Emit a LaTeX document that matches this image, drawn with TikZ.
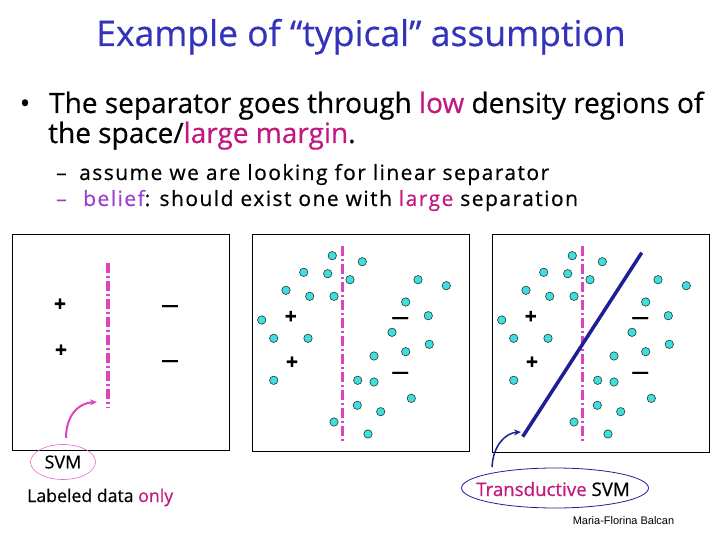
\documentclass[tikz,border=0pt]{standalone}
\usepackage{fontspec}
\setmainfont{Open Sans}[FakeBold=0.5]
\newfontfamily\subfont[LetterSpace=7,FakeBold=0.5]{Open Sans}
\newfontfamily\creditfont{Liberation Sans}
\usetikzlibrary{arrows.meta,shapes.geometric}
\definecolor{titleblue}{HTML}{3333BB}
\definecolor{hlmag}{HTML}{C2187F}
\definecolor{hlpurple}{HTML}{9A3FD0}
\definecolor{seppink}{HTML}{DD44BB}
\definecolor{dotcyan}{HTML}{3CE0E0}
\definecolor{navy}{HTML}{1E1E96}
\tikzset{
  frame/.style={draw=black, line width=1pt},
  sepline/.style={draw=seppink, line width=3.5pt, dash pattern=on 10pt off 3pt on 2pt off 3pt},
  udot/.style={fill=dotcyan, draw=black!80, line width=0.6pt},
  plusmark/.style={font=\fontsize{21}{21}\selectfont\bfseries, inner sep=0pt},
  minusmark/.style={font=\fontsize{17}{17}\selectfont\bfseries, inner sep=0pt},
  bodytext/.style={anchor=base west, inner sep=0pt},
  labelring/.style={ellipse, inner sep=0pt},
}
\begin{document}
\begin{tikzpicture}[x=1pt,y=-1pt]
\useasboundingbox (0,0) rectangle (720,540);
% title
\node[anchor=base, inner sep=0pt, text=titleblue, font=\fontsize{35.5}{35.5}\selectfont] (title) at (361,46) {Example of “typical” assumption};
% bullets
\node[anchor=base, inner sep=0pt, font=\fontsize{28}{28}\selectfont] (bul) at (25,113) {•};
\node[bodytext, font=\fontsize{28}{28}\selectfont] (l1) at (49,113) {The separator goes through \textcolor{hlmag}{low} density regions of};
\node[bodytext, font=\fontsize{28}{28}\selectfont] (l2) at (48,143) {the space/\textcolor{hlmag}{large margin}.};
\node[anchor=base west, inner sep=0pt, font=\subfont\fontsize{21}{21}\selectfont] (d1) at (56,180) {–};
\node[bodytext, font=\subfont\fontsize{21}{21}\selectfont] (s1) at (79,180) {assume we are looking for linear separator};
\node[anchor=base west, inner sep=0pt, text=hlpurple, font=\subfont\fontsize{21}{21}\selectfont] (d2) at (56,206) {–};
\node[bodytext, font=\subfont\fontsize{21}{21}\selectfont] (s2) at (83,206) {\textcolor{hlpurple}{belief}: should exist one with \textcolor{hlmag}{large} separation};
% frames
\draw[frame] (12,234) rectangle (229,450);
\draw[frame] (252,234) rectangle (469,451);
\draw[frame] (492,234) rectangle (709,452);
% box 1
\draw[sepline] (108,263) -- (108,408);
\node[plusmark] (p1a) at (60,305) {+};
\node[plusmark] (p1b) at (61,351) {+};
\node[minusmark] (m1a) at (170,308) {—};
\node[minusmark] (m1b) at (170,363) {—};
% boxes 2 and 3: unlabeled points
\foreach \s in {0,240}{
  \foreach \px/\py in {332.3/255.7, 362.3/261.7, 303.7/272.3, 327.7/273.7, 350/279.7, 418/279.7,
     446.3/285.7, 286/290.3, 309.7/296.3, 334/296.3, 405.7/302, 261.7/320, 428.3/315.7,
     273.7/338.3, 308/338.3, 392/332.3, 405.7/351.7, 429.3/344.3, 374/356, 273.7/380.3,
     357.7/380.3, 374/382, 411.3/398.3, 357.3/405.3, 380.7/411.7, 334/422, 368/434}{
    \filldraw[udot] (\px+\s,\py) circle (4.2);
  }
}
\draw[sepline] (342.3,246) -- (342.3,441);
\node[plusmark] (p2a) at (290.7,317.3) {+};
\node[plusmark] (p2b) at (292,363) {+};
\node[minusmark] (m2a) at (400.3,320) {—};
\node[minusmark] (m2b) at (400.3,374.7) {—};
\draw[sepline] (582.3,246) -- (582.3,441);
\node[plusmark] (p3a) at (530.7,317.3) {+};
\node[plusmark] (p3b) at (532,363) {+};
\node[minusmark] (m3a) at (640.3,320) {—};
\node[minusmark] (m3b) at (640.3,374.7) {—};
\coordinate (tsvmlo) at (522.7,436.7);
\coordinate (tsvmhi) at (641.7,252.7);
\draw[navy, line width=3.5pt] (tsvmlo) -- (tsvmhi);
% labels
\node[labelring, draw=seppink!80, line width=0.6pt, minimum width=65pt, minimum height=35pt] (svmring) at (63,462) {};
\node[inner sep=0pt, font=\fontsize{18}{18}\selectfont] (svm) at (svmring.center) {SVM};
\node[bodytext, font=\fontsize{17.7}{17.7}\selectfont] (lab) at (27,502) {Labeled data \textcolor{hlmag}{only}};
\node[labelring, draw=navy, line width=0.8pt, minimum width=187pt, minimum height=40pt] (tsvmring) at (555,488) {};
\node[inner sep=0pt, font=\fontsize{18.7}{18.7}\selectfont] (tsvm) at (553,489) {\textcolor{hlmag}{Transductive} SVM};
\node[anchor=center, inner sep=0pt, font=\creditfont\fontsize{11}{11}\selectfont] (credit) at (623.5,521) {Maria-Florina Balcan};
% arrows
\coordinate (a1s) at (66,438);
\coordinate (a1e) at (97,402);
\draw[seppink, line width=2pt, -{Stealth[length=7pt,width=6pt]}] (a1s) .. controls (66,416) and (78,403) .. (a1e);
\coordinate (a3s) at (492,467);
\coordinate (a3e) at (521,432);
\draw[navy, line width=1.5pt, -{Stealth[length=7pt,width=6pt]}] (a3s) .. controls (493,446) and (505,433) .. (a3e);
\end{tikzpicture}
\end{document}
